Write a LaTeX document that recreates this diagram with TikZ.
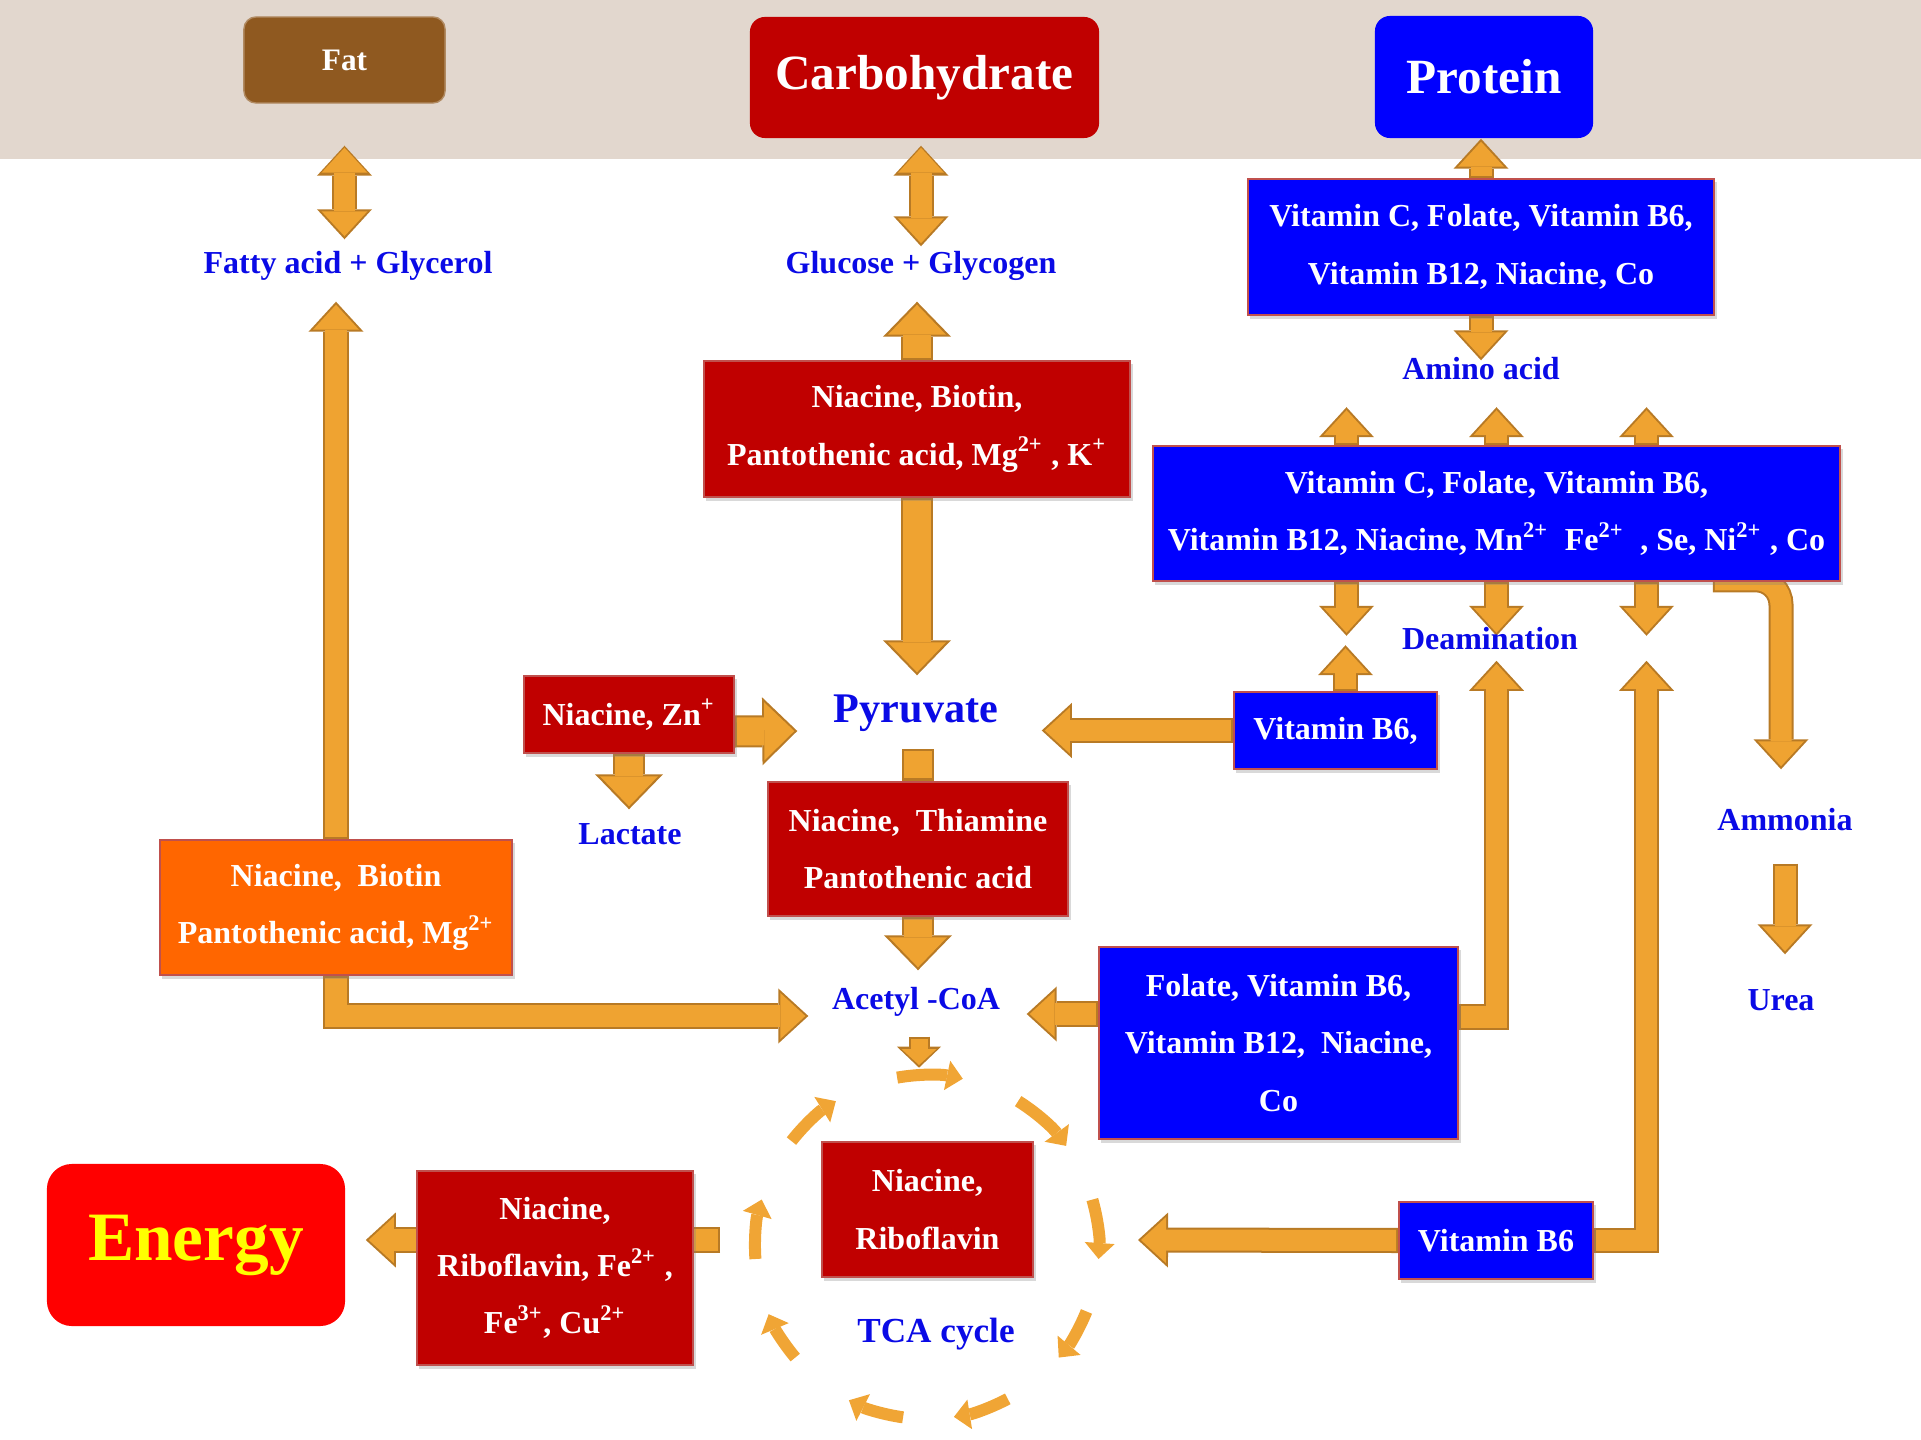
\documentclass[tikz,border=0pt]{standalone}
\usepackage{fontspec}
\setmainfont{Liberation Serif}
\usetikzlibrary{arrows.meta,calc,shadows}

\definecolor{bandbeige}{HTML}{E2D7CE}
\definecolor{fatbrown}{HTML}{8F5920}
\definecolor{carbred}{HTML}{C00000}
\definecolor{protblue}{HTML}{0000FF}
\definecolor{boxedge}{HTML}{C0504D}
\definecolor{enzorange}{HTML}{FF6600}
\definecolor{energyred}{HTML}{FF0000}
\definecolor{energyyellow}{HTML}{FFFF00}
\definecolor{arrowfill}{HTML}{EFA331}
\definecolor{arrowedge}{HTML}{B87A25}
\definecolor{arcorange}{HTML}{F0A535}
\definecolor{labelblue}{HTML}{0A0AE6}

\newcommand{\boxfont}{\bfseries\fontsize{9.1}{16.3}\selectfont}
\newcommand{\lblfont}{\bfseries\fontsize{9.1}{11}\selectfont}
\newcommand{\headfont}{\bfseries\fontsize{14}{16}\selectfont}
\newcommand{\energyfont}{\bfseries\fontsize{19.7}{22}\selectfont}

\pgfdeclarelayer{back}
\pgfdeclarelayer{arrows}
\pgfsetlayers{back,arrows,main}

\tikzset{
  bx/.style={draw=boxedge, line width=0.015cm, text=white, align=center,
    inner sep=0pt, font=\boxfont,
    drop shadow={shadow xshift=0.025cm, shadow yshift=-0.035cm, opacity=0.3}},
  redbox/.style={bx, fill=carbred},
  bluebox/.style={bx, fill=protblue},
  topbox/.style={text=white, align=center, inner sep=0pt, rounded corners=0.15cm},
  lbl/.style={text=labelblue, inner sep=0pt, text height=0.22cm, text depth=0.06cm, font=\lblfont},
  % block arrows: a dark rim drawn first, the orange body on top
  bigrim/.style={draw=arrowedge, line width=0.32cm,
    >={Triangle[width=0.68cm,length=0.35cm,line width=0pt]}},
  bigbody/.style={draw=arrowfill, line width=0.28cm,
    >={Triangle[width=0.58cm,length=0.30cm,line width=0pt]},
    shorten >=0.03cm, shorten <=0.02cm},
  medrim/.style={draw=arrowedge, line width=0.25cm,
    >={Triangle[width=0.55cm,length=0.30cm,line width=0pt]}},
  medbody/.style={draw=arrowfill, line width=0.21cm,
    >={Triangle[width=0.46cm,length=0.25cm,line width=0pt]},
    shorten >=0.03cm, shorten <=0.02cm},
  smallrim/.style={draw=arrowedge, line width=0.21cm,
    >={Triangle[width=0.44cm,length=0.21cm,line width=0pt]}},
  smallbody/.style={draw=arrowfill, line width=0.17cm,
    >={Triangle[width=0.35cm,length=0.16cm,line width=0pt]},
    shorten >=0.027cm, shorten <=0.02cm},
  tcaarc/.style={draw=arcorange, line width=0.12cm,
    -{Triangle[width=0.30cm,length=0.16cm,line width=0pt]}}
}

\newcommand{\blockarrow}[3]{%
  \draw[#1rim,#2] #3;
  \draw[#1body,#2] #3;}

\begin{document}
\begin{tikzpicture}[x=0.01cm,y=-0.01cm]
    \useasboundingbox (0,0) rectangle (1921,1440);
    \begin{pgfonlayer}{back}
        \fill[bandbeige] (0,0) rectangle (1921,159);
    \end{pgfonlayer}

    % top row
    \node (fat) [topbox, fill=fatbrown, draw=fatbrown!70!white, rounded corners=0.12cm,
        minimum width=2.01cm, minimum height=0.86cm, font=\bfseries\fontsize{8.9}{10}\selectfont]
        at (344.5,60) {Fat};
    \node (carb) [topbox, fill=carbred, minimum width=3.49cm, minimum height=1.21cm, font=\headfont]
        at (924.5,77.5) {Carbohydrate};
    \node (protein) [topbox, fill=protblue, minimum width=2.18cm, minimum height=1.22cm, font=\headfont]
        at (1484,77) {Protein};

    % labels
    \node (fatty) [lbl] at (348,266) {Fatty acid + Glycerol};
    \node (glucose) [lbl] at (921,266) {Glucose + Glycogen};
    \node (amino) [lbl] at (1481,371) {Amino acid};
    \node (deamin) [lbl] at (1490,641) {Deamination};
    \node (pyruvate) [lbl, text height=0.3cm, text depth=0.08cm, font=\bfseries\fontsize{12}{14}\selectfont]
        at (916,711) {Pyruvate};
    \node (lactate) [lbl] at (630,836) {Lactate};
    \node (acetyl) [lbl] at (916,1001) {Acetyl -CoA};
    \node (ammonia) [lbl] at (1785,822) {Ammonia};
    \node (urea) [lbl] at (1781,1002) {Urea};
    \node (tca) [lbl, text height=0.25cm, text depth=0.07cm, font=\bfseries\fontsize{10}{12}\selectfont]
        at (936,1333) {TCA cycle};

    % cofactor boxes
    \node (protvit) [bluebox, minimum width=4.66cm, minimum height=1.36cm] at (1481,247)
        {Vitamin C, Folate, Vitamin B6,\\Vitamin B12, Niacine, Co};
    \node (carbenz) [redbox, minimum width=4.26cm, minimum height=1.36cm] at (917,429)
        {Niacine, Biotin,\\Pantothenic acid, Mg\textsuperscript{2+} , K\textsuperscript{+}};
    \node (aminovit) [bluebox, minimum width=6.87cm, minimum height=1.35cm] at (1496.5,513.5)
        {Vitamin C, Folate, Vitamin B6,\\Vitamin B12, Niacine, Mn\textsuperscript{2+}\ \ Fe\textsuperscript{2+}\ \ , Se, Ni\textsuperscript{2+} , Co};
    \node (znbox) [redbox, minimum width=2.10cm, minimum height=0.77cm] at (629,714.5)
        {Niacine, Zn\textsuperscript{+}};
    \node (b6a) [bluebox, minimum width=2.03cm, minimum height=0.77cm] at (1335.5,730.5)
        {Vitamin B6,};
    \node (pdh) [redbox, minimum width=3.00cm, minimum height=1.34cm] at (918,849)
        {Niacine,\ \ Thiamine\\Pantothenic acid};
    \node (fatenz) [bx, fill=enzorange, minimum width=3.52cm, minimum height=1.35cm] at (336,907.5)
        {Niacine,\ \ Biotin\\Pantothenic acid, Mg\textsuperscript{2+}};
    \node (folbox) [bluebox, minimum width=3.59cm, minimum height=1.92cm] at (1278.5,1043)
        {Folate, Vitamin B6,\\Vitamin B12,\ \ Niacine,\\Co};
    \node (etc) [redbox, minimum width=2.76cm, minimum height=1.94cm] at (555,1268)
        {Niacine,\\Riboflavin, Fe\textsuperscript{2+} ,\\Fe\textsuperscript{3+}, Cu\textsuperscript{2+}};
    \node (tcaenz) [redbox, minimum width=2.11cm, minimum height=1.35cm] at (927.5,1209.5)
        {Niacine,\\Riboflavin};
    \node (b6b) [bluebox, minimum width=1.94cm, minimum height=0.77cm] at (1496,1240.5)
        {Vitamin B6};
    \node (energy) [topbox, fill=energyred, text=energyyellow, rounded corners=0.25cm,
        minimum width=2.98cm, minimum height=1.62cm, font=\energyfont] at (196,1245) {Energy};

    \coordinate (tcac) at (927,1247);

    % TCA cycle
    \begin{scope}[shift={(tcac)}, y=0.01cm]
        \foreach \a/\b in {100/78, 58/36, 16/-4, -22/-40, -62/-81, -98/-117, -140/-157, 184/164, 142/122}
            \draw[tcaarc] (\a:172) arc (\a:\b:172);
    \end{scope}

    \begin{pgfonlayer}{arrows}
        % fat and carbohydrate
        \blockarrow{med}{<->}{($(fat.south)+(0,42)$) -- ($(fat.south |- fatty.north)+(0,-12)$)}
        \blockarrow{med}{<->}{($(carb.south -| glucose)+(0,7)$) -- ($(glucose.north)+(0,-5)$)}
        \blockarrow{big}{->}{(carbenz.north) -- ($(carbenz.north |- glucose.south)+(0,21)$)}
        \blockarrow{big}{->}{(carbenz.south) -- ($(carbenz.south |- pyruvate.north)+(0,-16)$)}
        \blockarrow{med}{->}{(fatenz.north) -- ($(fatenz.north |- fatty.south)+(0,21)$)}
        \blockarrow{med}{->}{(fatenz.south) |- ($(acetyl.west)+(-23,15)$)}
        \blockarrow{big}{->}{($(znbox.east)+(0,17)$) -- ($(pyruvate.west)+(-36,20)$)}
        \blockarrow{big}{->}{(znbox.south) -- ($(znbox.south |- lactate.north)+(0,-12)$)}
        \blockarrow{big}{-}{($(pdh.north)+(0,-32)$) -- (pdh.north)}
        \blockarrow{big}{->}{(pdh.south) -- ($(pdh.south |- acetyl.north)+(0,-16)$)}
        \blockarrow{small}{->}{($(acetyl.south)+(3,21)$) -- ($(acetyl.south)+(3,52)$)}
        % protein
        \blockarrow{med}{->}{(protvit.north) -- (protvit.north |- protein.south)}
        \blockarrow{med}{->}{(protvit.south) -- ($(protvit.south |- amino.north)+(0,4)$)}
        \foreach \dx in {-150,0,150} {
            \blockarrow{med}{->}{($(aminovit.north)+(\dx,0)$) -- ($(aminovit.north)+(\dx,-38)$)}
            \blockarrow{med}{->}{($(aminovit.south)+(\dx,0)$) -- ($(aminovit.south)+(\dx,54)$)}
        }
        \blockarrow{med}{->, rounded corners=0.25cm}{($(aminovit.south east)+(-128,-2)$) -| ($(ammonia.north)+(-4,-38)$)}
        \blockarrow{med}{->}{($(ammonia.south)+(0,27)$) -- ($(ammonia.south |- urea.north)+(0,-33)$)}
        \blockarrow{med}{->}{(b6a.west) -- ($(pyruvate.east |- b6a.west)+(43,0)$)}
        \blockarrow{med}{->}{($(b6a.north)+(10,0)$) -- ($(b6a.north)+(10,-46)$)}
        \blockarrow{med}{->}{($(folbox.east)+(0,-26)$) -| ($(aminovit.south)+(0,79)$)}
        \blockarrow{med}{->}{($(folbox.west)+(0,-29)$) -- ($(acetyl.east)+(26,13)$)}
        \blockarrow{med}{->}{(b6b.east) -| ($(aminovit.south)+(150,79)$)}
        \blockarrow{med}{->}{(b6b.west) -- ($(tcac)+(211,-7)$)}
        % energy
        \blockarrow{med}{->}{($(tcac)+(-207,-7)$) -- ($(energy.east)+(20,-5)$)}
    \end{pgfonlayer}
\end{tikzpicture}
\end{document}
